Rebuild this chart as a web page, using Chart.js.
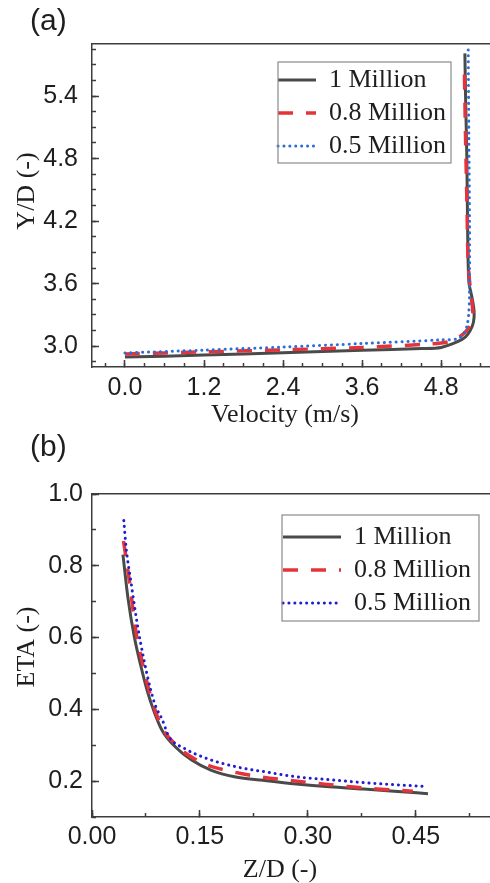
<!DOCTYPE html>
<html>
<head>
<meta charset="utf-8">
<title>Mesh independence</title>
<script src="https://cdn.jsdelivr.net/npm/chart.js@4.4.1/dist/chart.umd.min.js"></script>
<style>
  html, body { margin: 0; padding: 0; background: #fff; overflow: hidden; }
  body { position: relative; width: 490px; height: 883px; }
  canvas { position: absolute; left: 0; }
  #chartA { top: 0; }
  #chartB { top: 440px; }
  .tag { position: absolute; left: 30px; font: 30px "Liberation Sans", Arial, sans-serif; line-height: 30px; color: #1e1e1e; }
</style>
</head>
<body>
<canvas id="chartA" width="560" height="440"></canvas>
<canvas id="chartB" width="560" height="443"></canvas>
<div class="tag" style="top:5px">(a)</div>
<div class="tag" style="top:431px">(b)</div>
<script>
// (a) velocity profile vs. height, three mesh sizes
const velocity1M = [0, 1.2, 2.4, 3.6, 4.5, 4.8, 5.04, 5.17, 5.24, 5.29, 5.30, 5.27, 5.22, 5.20, 5.19, 5.17, 5.16];
const height1M = [2.895, 2.914, 2.936, 2.96, 2.977, 2.988, 3.04, 3.09, 3.15, 3.23, 3.33, 3.46, 3.62, 4.2, 4.8, 5.4, 5.81];
const velocity08M = [0, 1.2, 2.4, 3.6, 4.6, 4.9, 5.08, 5.2, 5.26, 5.28, 5.25, 5.21, 5.19, 5.17, 5.15];
const height08M = [2.925, 2.945, 2.965, 2.988, 3.02, 3.04, 3.09, 3.16, 3.24, 3.33, 3.5, 3.8, 4.4, 5.0, 5.72];
const velocity05M = [0, 1.2, 2.4, 3.6, 4.8, 5.05, 5.13, 5.19, 5.22, 5.23, 5.23, 5.22, 5.21];
const height05M = [2.935, 2.962, 2.992, 3.025, 3.06, 3.07, 3.11, 3.19, 3.32, 3.5, 4.2, 5.0, 5.86];

// (b) ETA along Z/D
const zd1M = [0.043, 0.05, 0.059, 0.068, 0.077, 0.087, 0.0975, 0.116, 0.139, 0.166, 0.198, 0.243, 0.284, 0.33, 0.376, 0.42, 0.467];
const eta1M = [0.831, 0.71, 0.60, 0.52, 0.45, 0.39, 0.341, 0.295, 0.258, 0.230, 0.212, 0.201, 0.192, 0.184, 0.178, 0.172, 0.165];
const zd08M = [0.0438, 0.052, 0.061, 0.07, 0.079, 0.0953, 0.118, 0.152, 0.189, 0.234, 0.275, 0.312, 0.355, 0.396, 0.446];
const eta08M = [0.869, 0.757, 0.618, 0.53, 0.455, 0.358, 0.298, 0.252, 0.229, 0.212, 0.202, 0.194, 0.185, 0.178, 0.172];
const zd05M = [0.0442, 0.0474, 0.054, 0.063, 0.072, 0.082, 0.0884, 0.0975, 0.1067, 0.1295, 0.161, 0.198, 0.243, 0.284, 0.33, 0.376, 0.421, 0.464];
const eta05M = [0.926, 0.85, 0.757, 0.637, 0.54, 0.451, 0.409, 0.372, 0.325, 0.29, 0.262, 0.241, 0.225, 0.212, 0.204, 0.196, 0.19, 0.185];

const meshLabels = ['1 Million', '0.8 Million', '0.5 Million'];

const INK = '#1e1e1e';
const AXIS = '#3d3d3d';
const BLACK = '#4a4a4a';
const RED = '#e4343a';
const BLUE_A = '#2b6fd6';
const BLUE_B = '#1f1fcf';
const SANS = '"Liberation Sans", Arial, sans-serif';
const SERIF = '"Liberation Serif", "Times New Roman", serif';

const toPoints = (xs, ys) => xs.map((x, i) => ({ x: x, y: ys[i] }));

// moves the legend into the plot, frames it, and writes the axis titles
const panelExtras = {
    id: 'panelExtras',
    afterLayout(chart, args, opts) {
        const lg = chart.legend;
        lg.left = opts.legendAt.x;
        lg.top = opts.legendAt.y;
        lg.right = lg.left + lg.width;
        lg.bottom = lg.top + lg.height;
    },
    beforeDatasetsDraw(chart, args, opts) {
        const f = opts.frame;
        const ctx = chart.ctx;
        ctx.save();
        ctx.strokeStyle = '#8a8a8a';
        ctx.lineWidth = 1.2;
        ctx.strokeRect(f.x, f.y, f.w, f.h);
        ctx.restore();
    },
    afterDraw(chart, args, opts) {
        const ctx = chart.ctx;
        ctx.save();
        ctx.font = '26px ' + SERIF;
        ctx.fillStyle = INK;
        ctx.textAlign = 'center';
        ctx.textBaseline = 'middle';
        ctx.fillText(opts.xTitle.text, opts.xTitle.x, opts.xTitle.y);
        ctx.translate(opts.yTitle.x, opts.yTitle.y);
        ctx.rotate(-Math.PI / 2);
        ctx.fillText(opts.yTitle.text, 0, 0);
        ctx.restore();
    }
};

function majorAxis(position, min, max, step, digits, pad, size) {
    return {
        type: 'linear', position: position, min: min, max: max,
        afterFit: s => { if (s.isHorizontal()) s.height = size; else s.width = size; },
        ticks: {
            stepSize: step, includeBounds: false, autoSkip: false, maxRotation: 0,
            padding: pad, color: INK, font: { family: SANS, size: 25 },
            callback: v => v.toFixed(digits)
        },
        grid: { drawOnChartArea: false, tickLength: -7, tickWidth: 1.5, tickColor: AXIS },
        border: { color: AXIS, width: 1.5 }
    };
}

// short inward ticks between the labelled ones
function minorAxis(axis, position, min, max, step) {
    return {
        type: 'linear', axis: axis, position: position, min: min, max: max, weight: -1,
        afterFit: s => { if (s.isHorizontal()) s.height = 0; else s.width = 0; },
        ticks: { stepSize: step, includeBounds: false, autoSkip: false, display: false },
        grid: { drawOnChartArea: false, tickLength: -4, tickWidth: 1.5, tickColor: AXIS },
        border: { display: false }
    };
}

// top edge of the frame
function topEdge(min, max) {
    return {
        type: 'linear', axis: 'x', position: 'top', min: min, max: max,
        afterFit: s => { s.height = 0; },
        ticks: { display: false },
        grid: { display: false },
        border: { color: AXIS, width: 1.5 }
    };
}

function meshDatasets(points, blue, smooth) {
    const line = smooth ? { cubicInterpolationMode: 'monotone' } : { tension: 0.3 };
    return [
        Object.assign({ label: meshLabels[0], data: points[0], borderColor: BLACK, borderWidth: 3, order: 3 }, line),
        Object.assign({ label: meshLabels[1], data: points[1], borderColor: RED, borderWidth: 3.5, borderDash: [15, 13], order: 2 }, line),
        Object.assign({ label: meshLabels[2], data: points[2], borderColor: blue, borderWidth: 3, borderDash: [0.1, 5.8], borderCapStyle: 'round', order: 1 }, line)
    ];
}

// legend samples take the dash pattern of their dataset line
function meshLegendItems(chart) {
    return Chart.defaults.plugins.legend.labels.generateLabels(chart).map(item => {
        const ds = chart.data.datasets[item.datasetIndex];
        item.lineDash = ds.borderDash || [];
        item.lineCap = ds.borderCapStyle || 'butt';
        item.lineWidth = ds.borderWidth;
        item.strokeStyle = ds.borderColor;
        return item;
    });
}

function legendOptions(lineLength) {
    return {
        position: 'chartArea', align: 'start',
        labels: {
            usePointStyle: true, pointStyle: 'line', pointStyleWidth: lineLength,
            padding: 7, color: INK, font: { family: SERIF, size: 26 },
            generateLabels: meshLegendItems,
            sort: (a, b) => a.datasetIndex - b.datasetIndex
        }
    };
}

const base = {
    responsive: false,
    animation: false,
    events: [],
    elements: { point: { radius: 0 }, line: { fill: false } }
};

new Chart(document.getElementById('chartA'), {
    type: 'line',
    data: {
        datasets: meshDatasets([
            toPoints(velocity1M, height1M),
            toPoints(velocity08M, height08M),
            toPoints(velocity05M, height05M)
        ], BLUE_A, false)
    },
    options: Object.assign({}, base, {
        layout: { padding: { top: 44, left: 0, right: 20, bottom: 0 } },
        scales: {
            x: majorAxis('bottom', -0.5, 6.3, 1.2, 1, 13, 73),
            y: majorAxis('left', 2.8, 5.9, 0.6, 1, 21, 92),
            xMinor: minorAxis('x', 'bottom', -0.5, 6.3, 0.3),
            yMinor: minorAxis('y', 'left', 2.8, 5.9, 0.15),
            xTop: topEdge(-0.5, 6.3)
        },
        plugins: {
            tooltip: { enabled: false },
            legend: legendOptions(38),
            panelExtras: {
                legendAt: { x: 271, y: 60 },
                frame: { x: 278, y: 62, w: 173, h: 101 },
                xTitle: { text: 'Velocity (m/s)', x: 285, y: 415 },
                yTitle: { text: 'Y/D (-)', x: 27, y: 191 }
            }
        }
    }),
    plugins: [panelExtras]
});

new Chart(document.getElementById('chartB'), {
    type: 'line',
    data: {
        datasets: meshDatasets([
            toPoints(zd1M, eta1M),
            toPoints(zd08M, eta08M),
            toPoints(zd05M, eta05M)
        ], BLUE_B, true)
    },
    options: Object.assign({}, base, {
        layout: { padding: { top: 54, left: 0, right: 29, bottom: 0 } },
        scales: {
            x: majorAxis('bottom', 0, 0.6, 0.15, 2, 12, 66),
            y: majorAxis('left', 0.1, 1.0, 0.2, 1, 16, 92),
            xMinor: minorAxis('x', 'bottom', 0, 0.6, 0.075),
            yMinor: minorAxis('y', 'left', 0.1, 1.0, 0.1),
            xTop: topEdge(0, 0.6)
        },
        plugins: {
            tooltip: { enabled: false },
            legend: legendOptions(58),
            panelExtras: {
                legendAt: { x: 276, y: 77 },
                frame: { x: 282, y: 75, w: 197, h: 106 },
                xTitle: { text: 'Z/D (-)', x: 280, y: 430 },
                yTitle: { text: 'ETA (-)', x: 27, y: 207 }
            }
        }
    }),
    plugins: [panelExtras]
});
</script>
</body>
</html>
